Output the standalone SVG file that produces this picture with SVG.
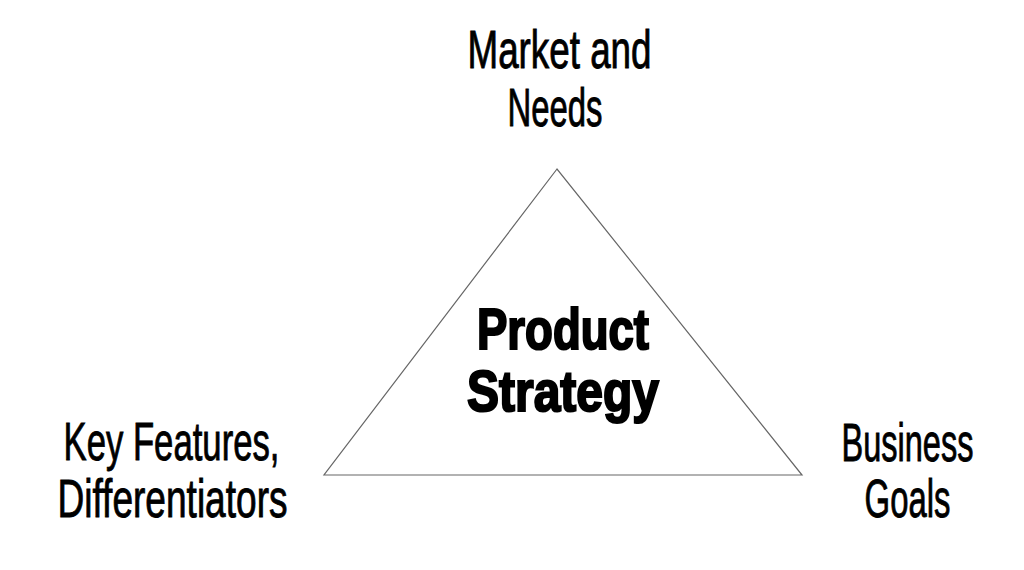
<svg xmlns="http://www.w3.org/2000/svg" width="1024" height="570" viewBox="0 0 1024 570">
<style>
.lbl{font-family:"Liberation Sans Narrow","Liberation Sans",Arial,sans-serif;font-size:53px;fill:#000;stroke:#000;stroke-width:0.9;text-anchor:middle}
.ctr{font-family:"Liberation Sans Narrow","Liberation Sans",Arial,sans-serif;font-size:57px;font-weight:bold;fill:#000;stroke:#000;stroke-width:2.2;text-anchor:middle}
.tri{fill:#fff;stroke:#666;stroke-width:1.2}
</style>
<rect width="1024" height="570" fill="#fff"/>
<g id="connectors">
<polygon class="tri" points="557,169 324,475 802,475"/>
</g>
<g id="product-strategy">
<text class="ctr" x="563" y="349" textLength="172" lengthAdjust="spacingAndGlyphs">Product</text>
<text class="ctr" x="563" y="411" textLength="192" lengthAdjust="spacingAndGlyphs">Strategy</text>
</g>
<g id="market-needs">
<text class="lbl" x="559.5" y="68" textLength="184" lengthAdjust="spacingAndGlyphs">Market and</text>
<text class="lbl" x="555" y="126" textLength="95" lengthAdjust="spacingAndGlyphs">Needs</text>
</g>
<g id="key-features">
<text class="lbl" x="171.5" y="460" textLength="216" lengthAdjust="spacingAndGlyphs">Key Features,</text>
<text class="lbl" x="172.5" y="517" textLength="230" lengthAdjust="spacingAndGlyphs">Differentiators</text>
</g>
<g id="business-goals">
<g transform="translate(907.5,461) scale(0.65,1)">
<text class="lbl" x="0" y="0" textLength="203" lengthAdjust="spacingAndGlyphs">Business</text>
</g>
<g transform="translate(907.5,517) scale(0.65,1)">
<text class="lbl" x="0" y="0" textLength="132" lengthAdjust="spacingAndGlyphs">Goals</text>
</g>
</g>
</svg>
